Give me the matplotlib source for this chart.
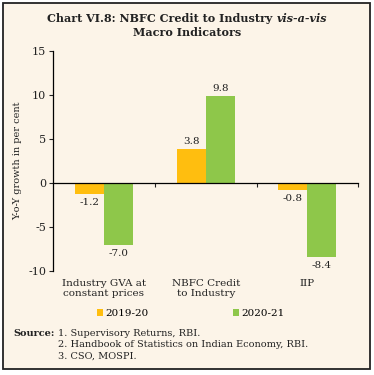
import numpy as np
import matplotlib.pyplot as plt
from matplotlib.patches import Rectangle
import matplotlib.transforms as mtransforms

categories = ['Industry GVA at\nconstant prices', 'NBFC Credit\nto Industry', 'IIP']
fy2020 = [-1.2, 3.8, -0.8]
fy2021 = [-7.0, 9.8, -8.4]
series_names = ['2019-20', '2020-21']
yticks = [-10, -5, 0, 5, 10, 15]
sources = ['1. Supervisory Returns, RBI.',
           '2. Handbook of Statistics on Indian Economy, RBI.',
           '3. CSO, MOSPI.']

bg = '#FCF4E8'
orange = '#FFBE0F'
green = '#8EC74A'
ink = '#222222'
serif = 'DejaVu Serif'

fig = plt.figure(figsize=(3.74, 3.75), dpi=100, facecolor='white')
fig.patches.append(Rectangle((0.008, 0.016), 0.982, 0.976, transform=fig.transFigure,
                             facecolor=bg, edgecolor=ink, lw=1.3, zorder=-1))

ax = fig.add_axes([0.142, 0.277, 0.816, 0.588])
ax.set_facecolor(bg)
x = np.arange(len(categories))
w = 0.285
ax.bar(x - w / 2, fy2020, w, color=orange, label=series_names[0])
ax.bar(x + w / 2, fy2021, w, color=green, label=series_names[1])

# value labels
for offs, vals in [(-w / 2, fy2020), (w / 2, fy2021)]:
    for xi, v in zip(x + offs, vals):
        ax.text(xi, v + (0.4 if v > 0 else -0.5), f'{v:.1f}', ha='center',
                va='bottom' if v > 0 else 'top', fontsize=7.5, family=serif, color=ink)

ax.set_xlim(-0.5, 2.5)
ax.set_ylim(-10, 15)
ax.set_yticks(yticks)
ax.set_yticklabels([str(t) for t in yticks], family=serif, fontsize=8, color=ink)
ax.tick_params(axis='y', length=3, width=0.8, pad=2, color=ink)
ax.set_xticks([0.5, 1.5, 2.5])
ax.set_xticklabels([])
ax.tick_params(axis='x', length=3, width=0.8, direction='out', color=ink)
for s in ['top', 'right']:
    ax.spines[s].set_visible(False)
ax.spines['bottom'].set_position(('data', 0))
ax.spines['left'].set_bounds(-10, 15)
ax.spines['left'].set_linewidth(0.9)
ax.spines['bottom'].set_linewidth(0.9)
ax.set_ylabel('Y-o-Y growth in per cent', family=serif, fontsize=7, labelpad=4, color=ink)

trans = mtransforms.blended_transform_factory(ax.transData, ax.transAxes)
for xi, c in zip(x, categories):
    ax.text(xi, -0.035, c, transform=trans, ha='center', va='top', fontsize=7.5,
            family=serif, linespacing=1.15, color=ink)

# title, with italic "vis-a-vis"
renderer = fig.canvas.get_renderer()
part1 = 'Chart VI.8: NBFC Credit to Industry '
part2 = 'vis-a-vis'
t1 = fig.text(0, 0.952, part1, ha='left', va='center', fontsize=8, family=serif,
              weight='bold', color=ink)
t2 = fig.text(0, 0.952, part2, ha='left', va='center', fontsize=8, family=serif,
              weight='bold', style='italic', color=ink)
w1 = t1.get_window_extent(renderer).width / fig.bbox.width
w2 = t2.get_window_extent(renderer).width / fig.bbox.width
x0 = 0.5 - (w1 + w2) / 2
t1.set_x(x0)
t2.set_x(x0 + w1)
fig.text(0.5, 0.914, 'Macro Indicators', ha='center', va='center',
         fontsize=8, family=serif, weight='bold', color=ink)

fig.legend(loc='center', bbox_to_anchor=(0.51, 0.163), ncol=2, frameon=False,
           prop={'family': serif, 'size': 7.5}, handlelength=0.6, handleheight=0.6,
           handletextpad=0.2, columnspacing=8.1)

fig.text(0.035, 0.112, 'Source:', fontsize=7, family=serif, weight='bold', va='center', color=ink)
for i, s in enumerate(sources):
    fig.text(0.155, 0.112 - i * 0.031, s, fontsize=7, family=serif, va='center', color=ink)

fig.savefig('out.png', dpi=100, facecolor='white')
